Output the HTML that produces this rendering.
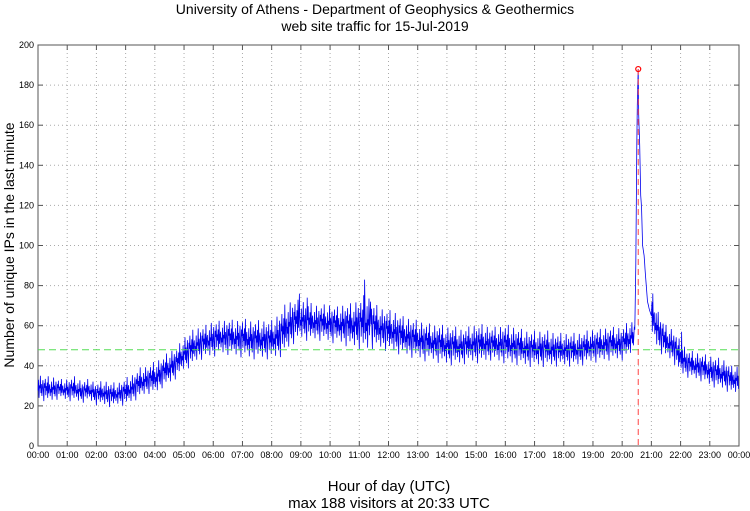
<!DOCTYPE html>
<html><head><meta charset="utf-8"><style>
body{margin:0;background:#fff;font-family:"Liberation Sans",sans-serif}
</style></head><body>
<svg id="chart" width="750" height="511" style="display:block">
<text x="375" y="14" text-anchor="middle" font-size="14">University of Athens - Department of Geophysics &amp; Geothermics</text>
<text x="375" y="31" text-anchor="middle" font-size="14">web site traffic for 15-Jul-2019</text>
<text transform="translate(14,245) rotate(-90)" text-anchor="middle" font-size="14">Number of unique IPs in the last minute</text>
<text x="389" y="491" text-anchor="middle" font-size="15">Hour of day (UTC)</text>
<text x="389" y="508" text-anchor="middle" font-size="15">max 188 visitors at 20:33 UTC</text>
<g id="grid"></g><g id="series"></g><g id="over"></g>
</svg>
<script>
const yTicks=[0,20,40,60,80,100,120,140,160,180,200];
const xTickLabels=["00:00","01:00","02:00","03:00","04:00","05:00","06:00","07:00","08:00","09:00","10:00","11:00","12:00","13:00","14:00","15:00","16:00","17:00","18:00","19:00","20:00","21:00","22:00","23:00","00:00"];
const quarterLo=[25,24,24,25,24,24,23,24,22,22,21,22,22,24,26,28,28,31,33,36,40,42,45,46,47,48,48,47,47,46,46,46,46,47,50,54,56,55,55,55,54,54,53,52,52,51,52,51,50,49,48,47,46,45,45,44,43,43,43,44,44,44,45,44,44,43,43,42,42,42,42,42,42,42,42,43,44,44,45,45,45,47,52,62,58,50,46,44,38,36,35,34,32,31,30,28];
const quarterHi=[34,33,33,32,32,33,31,32,30,31,30,30,32,34,37,38,40,42,45,47,52,55,57,58,60,60,61,60,61,60,60,60,60,63,68,70,70,69,68,68,68,67,68,68,70,72,68,66,65,64,62,61,60,59,58,58,57,57,56,57,58,58,57,57,58,57,56,55,55,55,55,54,54,54,54,55,56,56,57,57,57,60,60,80,75,64,58,56,50,46,45,44,43,42,41,38];
const peakMin=[1226,1228,1230,1231,1233,1234,1236,1238,1240,1242,1245,1248,1252,1256,1260];
const peakVal=[58,90,150,170,188,165,150,125,118,100,95,85,72,68,65];
const spikeMin=[537,553,671,683,1322];
const spikeVal=[76,74,83,72,57];
const meanVal=48, maxVal=188, maxMin=1233;
const L=38,R=739,T=45,B=446;
const X=m=>L+(R-L)*m/1440, Y=v=>B-(B-T)*v/200;
const ns="http://www.w3.org/2000/svg";
function mk(t,a,p){const e=document.createElementNS(ns,t);for(const k in a)e.setAttribute(k,a[k]);p.appendChild(e);return e;}
const grid=document.getElementById('grid'),ser=document.getElementById('series'),over=document.getElementById('over');
mk('rect',{x:L,y:T,width:R-L,height:B-T,fill:'none',stroke:'#555','stroke-width':1},grid);
yTicks.forEach(v=>{const y=Y(v);
 if(v>0&&v<200){const g=mk('line',{x1:L,x2:R,y1:y,y2:y,stroke:'#aaa','stroke-dasharray':'1,3'},grid);}
 mk('line',{x1:L,x2:L+5,y1:y,y2:y,stroke:'#555'},grid);mk('line',{x1:R-5,x2:R,y1:y,y2:y,stroke:'#555'},grid);
 const t=mk('text',{x:L-4,y:y+3,'text-anchor':'end','font-size':9},grid);t.textContent=v;
 });
xTickLabels.forEach((s,i)=>{const x=X(i*60);
 if(i>0&&i<24){const g=mk('line',{x1:x,x2:x,y1:T,y2:B,stroke:'#aaa','stroke-dasharray':'1,3'},grid);}
 mk('line',{x1:x,x2:x,y1:B-5,y2:B,stroke:'#555'},grid);mk('line',{x1:x,x2:x,y1:T,y2:T+5,stroke:'#555'},grid);
 const t=mk('text',{x:x,y:B+12,'text-anchor':'middle','font-size':9},grid);t.textContent=s;
 });
const pat=[0.3,0.9,-0.1,0.6,0.45,1.15,0.2,0.7,0.05,0.5,0.95,0.35,-0.2,0.8,0.55,1.05,0.15,0.65,0.4,0.85,0.0,1.2,0.25,0.6,0.75,0.1,0.5];
function interp(ms,vs,m){for(let i=0;i<ms.length-1;i++)if(m>=ms[i]&&m<=ms[i+1])return vs[i]+(vs[i+1]-vs[i])*(m-ms[i])/(ms[i+1]-ms[i]);return vs[vs.length-1];}
let d='';
for(let m=0;m<1440;m++){
 let v;
 const si=spikeMin.indexOf(m);
 if(m>=peakMin[0]&&m<=peakMin[peakMin.length-1]) v=interp(peakMin,peakVal,m);
 else if(si>=0) v=spikeVal[si];
 else{const q=Math.min(95,Math.floor(m/15)),f=(m%15)/15,q2=Math.min(95,q+1);
  const lo=quarterLo[q]+(quarterLo[q2]-quarterLo[q])*f, hi=quarterHi[q]+(quarterHi[q2]-quarterHi[q])*f;
  v=lo+(hi-lo)*pat[m%pat.length];}
 d+=(m?'L':'M')+X(m).toFixed(1)+','+Y(v).toFixed(1);}
const line=mk('path',{d:d,fill:'none',stroke:'#0000ee','stroke-width':0.8},ser);


const ml=mk('line',{x1:L,x2:R,y1:Y(meanVal),y2:Y(meanVal),stroke:'#5d5','stroke-dasharray':'7,4','stroke-width':1},over);


const vl=mk('line',{x1:X(maxMin),x2:X(maxMin),y1:Y(maxVal),y2:B,stroke:'#f44','stroke-dasharray':'6,4','stroke-width':1},over);


const mc=mk('circle',{cx:X(maxMin),cy:Y(maxVal),r:2.5,fill:'none',stroke:'#f00','stroke-width':1.2},over);


</script>
</body></html>
